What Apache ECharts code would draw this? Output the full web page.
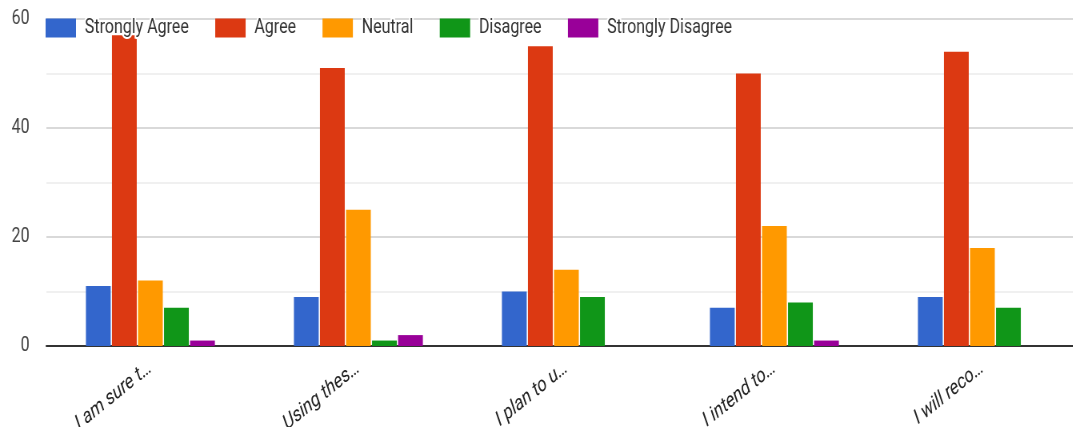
<!DOCTYPE html>
<html><head><meta charset="utf-8">
<script src="https://cdn.jsdelivr.net/npm/echarts@6/dist/echarts.min.js"></script>
<style>
html,body{margin:0;padding:0;background:#fff;overflow:hidden;width:1073px;height:427px}
#wrap{width:1073px;height:427px;overflow:hidden;position:relative}
#c{width:1360px;height:427px;transform:scaleX(0.8);transform-origin:0 0;position:absolute;left:0;top:0}
</style>
</head><body><div id="wrap"><div id="c"></div></div>
<script>
const categories = ["I am sure t…", "Using thes…", "I plan to u…", "I intend to…", "I will reco…"];
const seriesNames = ["Strongly Agree", "Agree", "Neutral", "Disagree", "Strongly Disagree"];
const stronglyAgree = [11, 9, 10, 7, 9];
const agree = [57, 51, 55, 50, 54];
const neutral = [12, 25, 14, 22, 18];
const disagree = [7, 1, 9, 8, 7];
const stronglyDisagree = [1, 2, 0, 1, 0];
const colors = ["#3366cc", "#dc3912", "#ff9900", "#109618", "#990099"];
const values = [stronglyAgree, agree, neutral, disagree, stronglyDisagree];

const chart = echarts.init(document.getElementById('c'));
chart.setOption({
  animation: false,
  color: colors,
  legend: {
    top: 16, left: 57, padding: 0,
    itemWidth: 38, itemHeight: 19, itemGap: 31,
    icon: 'rect',
    textStyle: { fontFamily: 'Roboto', fontSize: 20, color: '#333', textBorderColor: '#fff', textBorderWidth: 4, padding: [0, 0, 0, 6] },
    data: seriesNames
  },
  grid: { left: 58, right: 2, top: 19, bottom: 81, containLabel: false, outerBoundsMode: 'none' },
  xAxis: {
    type: 'category', data: categories,
    axisTick: { show: false },
    axisLine: { lineStyle: { color: '#333', width: 2 } },
    axisLabel: { rotate: 33, fontFamily: 'Roboto', fontStyle: 'italic', fontSize: 21, color: '#222', margin: 20 }
  },
  yAxis: {
    type: 'value', min: 0, max: 60, interval: 10,
    axisLine: { show: false }, axisTick: { show: false },
    axisLabel: { fontFamily: 'Roboto', fontSize: 20, color: '#444', margin: 21,
      formatter: v => (v % 20 === 0 ? String(v) : '') },
    splitLine: { lineStyle: { color: ['#cccccc', '#ebebeb'], width: 1.5 } }
  },
  series: seriesNames.map((n, i) => ({
    name: n, type: 'bar', data: values[i],
    barWidth: 31, barGap: '5%'
  }))
});
</script></body></html>
